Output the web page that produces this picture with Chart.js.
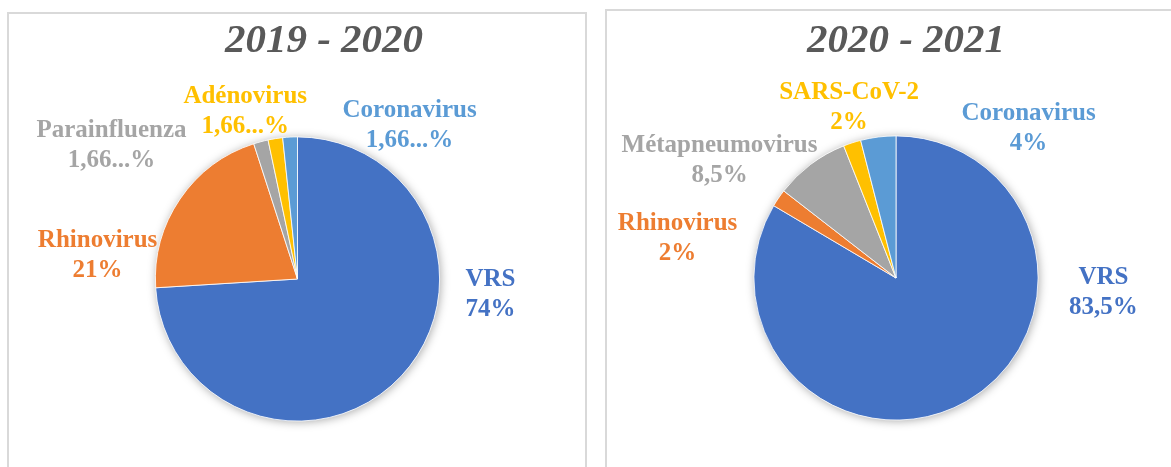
<!DOCTYPE html>
<html>
<head>
<meta charset="utf-8">
<script src="https://cdn.jsdelivr.net/npm/chart.js@4/dist/chart.umd.min.js"></script>
<style>
  body { margin: 0; background: #fff; width: 1171px; height: 467px; overflow: hidden; position: relative; }
  .panel { position: absolute; border: 2px solid #d9d9d9; box-sizing: border-box; }
  canvas { position: absolute; top: 0; }
</style>
</head>
<body>
<div class="panel" style="left:7px; top:12px; width:580px; height:480px;"></div>
<div class="panel" style="left:605px; top:9px; width:600px; height:480px;"></div>
<canvas id="pie1" width="596" height="467" style="left:0px"></canvas>
<canvas id="pie2" width="575" height="467" style="left:596px"></canvas>
<script>
// 2019 - 2020
var labels1 = ["VRS", "Rhinovirus", "Parainfluenza", "Adénovirus", "Coronavirus"];
var values1 = [74, 21, 1.66, 1.66, 1.66];
var pct1 = ["74%", "21%", "1,66...%", "1,66...%", "1,66...%"];

// 2020 - 2021
var labels2 = ["VRS", "Rhinovirus", "Métapneumovirus", "SARS-CoV-2", "Coronavirus"];
var values2 = [83.5, 2, 8.5, 2, 4];
var pct2 = ["83,5%", "2%", "8,5%", "2%", "4%"];

var colors = ['#4472C4', '#ED7D31', '#A5A5A5', '#FFC000', '#5B9BD5'];
var serif = "'Liberation Serif', 'Times New Roman', serif";

// label anchors, in units of the pie radius, from the pie centre
var spots1 = [[1.358, 0.007], [-1.407, -0.274], [-1.309, -1.046], [-0.368, -1.284], [0.789, -1.186]];
var spots2 = [[1.46, 0], [-1.537, -0.386], [-1.242, -0.933], [-0.33, -1.305], [0.933, -1.158]];

var pieExtras = {
    id: 'pieExtras',
    beforeDatasetsDraw: function(chart) {
        // soft shadow under the whole pie
        var arc = chart.getDatasetMeta(0).data[0];
        var ctx = chart.ctx;
        ctx.save();
        ctx.shadowColor = 'rgba(0,0,0,0.35)';
        ctx.shadowBlur = 10;
        ctx.shadowOffsetX = 1;
        ctx.shadowOffsetY = 1;
        ctx.fillStyle = '#ffffff';
        ctx.beginPath();
        ctx.arc(arc.x, arc.y, arc.outerRadius, 0, Math.PI * 2);
        ctx.fill();
        ctx.restore();
    },
    afterDraw: function(chart, args, opts) {
        var ctx = chart.ctx;
        var arcs = chart.getDatasetMeta(0).data;
        var cx = arcs[0].x, cy = arcs[0].y, r = arcs[0].outerRadius;
        ctx.save();
        ctx.textAlign = 'center';
        ctx.textBaseline = 'middle';
        ctx.fillStyle = '#595959';
        ctx.font = 'italic bold 41px ' + serif;
        ctx.fillText(opts.title, opts.titleX, opts.titleY);
        ctx.font = 'bold 25px ' + serif;
        chart.data.labels.forEach(function(name, i) {
            var x = cx + opts.spots[i][0] * r;
            var y = cy + opts.spots[i][1] * r;
            ctx.fillStyle = colors[i];
            ctx.fillText(name, x, y);
            ctx.fillText(opts.pct[i], x, y + 30);
        });
        ctx.restore();
    }
};

function makePie(id, labels, values, pct, spots, title, titleX, pad) {
    return new Chart(document.getElementById(id), {
        type: 'pie',
        data: {
            labels: labels,
            datasets: [{
                data: values,
                backgroundColor: colors,
                borderColor: '#ffffff',
                borderWidth: 0.8
            }]
        },
        options: {
            responsive: false,
            animation: false,
            layout: { padding: pad },
            plugins: {
                legend: { display: false },
                tooltip: { enabled: false },
                pieExtras: { title: title, titleX: titleX, titleY: 41, spots: spots, pct: pct }
            }
        },
        plugins: [pieExtras]
    });
}

makePie('pie1', labels1, values1, pct1, spots1, '2019 - 2020', 324,
    { left: 155, right: 156, top: 136.5, bottom: 45.5 });
makePie('pie2', labels2, values2, pct2, spots2, '2020 - 2021', 310,
    { left: 157.5, right: 132.5, top: 135.5, bottom: 46.5 });
</script>
</body>
</html>
